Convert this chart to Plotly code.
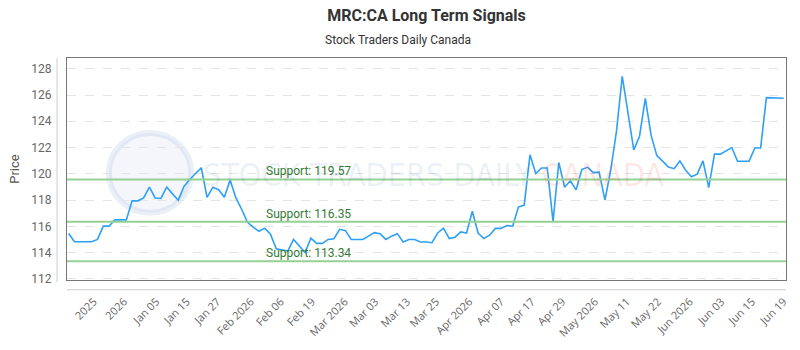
import plotly.graph_objects as go

# ---- data ----
price = [
    115.45, 114.82, 114.82, 114.82, 114.82, 115.00, 116.01, 116.01, 116.49, 116.49,
    116.49, 117.94, 117.94, 118.16, 118.98, 118.16, 118.12, 118.98, 118.49, 117.99,
    119.03, 119.57, 120.02, 120.46, 118.21, 118.98, 118.79, 118.21, 119.53, 118.16,
    117.30, 116.31, 115.94, 115.62, 115.86, 115.40, 114.28, 114.20, 114.11, 115.00,
    114.50, 114.01, 115.10, 114.70, 114.70, 115.00, 115.05, 115.77, 115.67, 115.00,
    115.00, 115.00, 115.25, 115.52, 115.44, 115.00, 115.25, 115.44, 114.80, 115.00,
    115.00, 114.80, 114.80, 114.75, 115.49, 115.86, 115.07, 115.17, 115.57, 115.49,
    117.15, 115.49, 115.07, 115.32, 115.84, 115.84, 116.06, 116.01, 117.47, 117.62,
    121.45, 120.02, 120.44, 120.44, 116.36, 120.86, 118.98, 119.47, 118.78, 120.34,
    120.49, 120.09, 120.12, 117.99, 120.27, 123.23, 127.43, 124.72, 121.82, 122.86,
    125.75, 122.94, 121.38, 120.96, 120.51, 120.39, 120.98, 120.27, 119.77, 119.97,
    120.98, 118.95, 121.50, 121.50, 121.75, 122.00, 120.96, 120.96, 120.96, 121.97,
    121.97, 125.80, 125.80, 125.80, 125.75,
]
day_index = list(range(len(price)))

tick_labels = ["2025", "2026", "Jan 05", "Jan 15", "Jan 27", "Feb 2026", "Feb 06", "Feb 19",
               "Mar 2026", "Mar 03", "Mar 13", "Mar 25", "Apr 2026", "Apr 07", "Apr 17",
               "Apr 29", "May 2026", "May 11", "May 22", "Jun 2026", "Jun 03", "Jun 15", "Jun 19"]
tick_index = [4.35, 9.6, 15.2, 20.5, 25.8, 31.6, 36.8, 42.2, 47.9, 53.2, 58.7, 63.7,
              69.5, 75.0, 80.3, 85.6, 91.3, 96.8, 102.2, 107.7, 113.2, 118.5, 124.0]

support_levels = [119.57, 116.35, 113.34]
y_ticks = [112, 114, 116, 118, 120, 122, 124, 126, 128]

title_text = "MRC:CA Long Term Signals"
subtitle_text = "Stock Traders Daily Canada"

# ---- figure ----
fig = go.Figure()

fig.add_trace(go.Scatter(
    x=day_index, y=price, mode="lines",
    line=dict(color="#2ea0f5", width=1.6),
    hoverinfo="skip", showlegend=False,
))

PW, PH = 723, 228  # plot area size in px (for paper-coordinate decorations)

shapes = []
annotations = []

# watermark logo circle
shapes.append(dict(type="circle", xref="paper", yref="paper",
                   x0=(109 - 67) / PW, x1=(192 - 67) / PW,
                   y0=(286 - 217) / PH, y1=(286 - 135) / PH,
                   line=dict(color="rgba(60,110,180,0.10)", width=6),
                   fillcolor="rgba(60,110,180,0.06)", layer="below"))

annotations.append(dict(
    xref="paper", yref="paper", x=(436 - 67) / PW, y=(286 - 178) / PH,
    xanchor="center", yanchor="middle", showarrow=False,
    text="<span style='color:rgba(60,100,170,0.10)'>STOCK TRADERS DAILY </span>"
         "<span style='color:rgba(235,60,60,0.12)'>CANADA</span>",
    font=dict(family="DejaVu Sans Condensed, Liberation Sans Narrow, Roboto", size=32),
))

for lvl in support_levels:
    shapes.append(dict(type="line", xref="paper", yref="y", x0=0, x1=1, y0=lvl, y1=lvl,
                       line=dict(color="#95d095", width=2)))
    annotations.append(dict(
        x=33.9, y=lvl, xref="x", yref="y", xanchor="left", yanchor="middle",
        yshift=8, showarrow=False, text=f"Support: {lvl:.2f}",
        font=dict(family="Roboto", size=12, color="#347a34"),
    ))

# subtitle
annotations.append(dict(
    xref="paper", yref="paper", x=(400 - 67) / PW, y=1 + (58 - 40) / PH,
    xanchor="center", yanchor="middle", showarrow=False, text=subtitle_text,
    font=dict(family="Roboto", size=12, color="#333333"),
))

# outer light axis lines
shapes.append(dict(type="line", xref="paper", yref="paper",
                   x0=-10 / PW, x1=-10 / PW, y0=-2 / PH, y1=1,
                   line=dict(color="#cccccc", width=1)))
shapes.append(dict(type="line", xref="paper", yref="paper",
                   x0=0, x1=1, y0=-10 / PH, y1=-10 / PH,
                   line=dict(color="#cccccc", width=1)))

fig.update_layout(
    width=800, height=350,
    margin=dict(l=67, r=10, t=58, b=64),
    paper_bgcolor="white", plot_bgcolor="white",
    title=dict(
        text=f"<b>{title_text}</b>",
        x=0.5, xanchor="center", xref="paper", y=1 - 15 / 350, yanchor="middle",
        font=dict(family="Roboto", size=16, color="#333333"),
    ),
    shapes=shapes,
    annotations=annotations,
    showlegend=False,
)

fig.update_xaxes(
    range=[-0.29, 124.4],
    tickmode="array", tickvals=tick_index, ticktext=tick_labels,
    tickangle=-45, ticks="", ticklabelstandoff=10,
    tickfont=dict(family="Open Sans", size=11, color="#666666"),
    showgrid=False, zeroline=False,
    showline=True, linecolor="#777777", linewidth=1, mirror=True,
)
fig.update_yaxes(
    range=[111.91, 128.82],
    tickmode="array", tickvals=y_ticks,
    ticks="", ticklabelstandoff=12,
    tickfont=dict(family="Roboto", size=12, color="#666666"),
    title=dict(text="Price", font=dict(family="Roboto", size=13, color="#555555"), standoff=8),
    showgrid=True, gridcolor="#e4e4e4", griddash="dash", gridwidth=1,
    zeroline=False,
    showline=True, linecolor="#777777", linewidth=1, mirror=True,
)

fig.write_html("out.html")
